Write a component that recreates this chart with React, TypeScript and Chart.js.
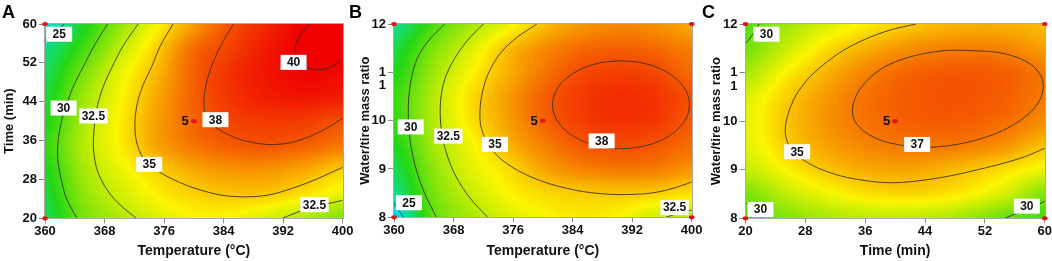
import React, { useEffect, useRef } from "react";
import { Chart, registerables } from "chart.js";

Chart.register(...registerables);

const FONT = "'Liberation Sans', Arial, Helvetica, sans-serif";

// ================= Panel A : Temperature (°C) x Time (min) =================
const A_xTicks = [360, 368, 376, 384, 392, 400];
const A_yTicks = [20, 28, 36, 44, 52, 60];
const A_gridX = [360, 365, 370, 375, 380, 385, 390, 395, 400];
const A_gridY = [60, 55, 50, 45, 40, 35, 30, 25, 20];
const A_values = [
  [24.3, 27.7, 31.0, 33.8, 36.1, 38.05, 39.1, 40.1, 41.0],
  [26.0, 28.9, 32.2, 34.8, 37.3, 38.4, 39.4, 40.1, 40.5],
  [26.8, 30.3, 33.3, 35.4, 37.6, 38.8, 39.5, 39.9, 39.8],
  [27.5, 31.2, 33.7, 35.8, 37.6, 38.7, 39.3, 39.5, 39.3],
  [28.0, 31.6, 34.0, 36.0, 37.5, 38.3, 38.6, 38.5, 38.0],
  [28.6, 32.0, 34.0, 35.9, 37.1, 37.7, 37.9, 37.6, 37.0],
  [28.0, 31.5, 33.4, 34.8, 35.8, 36.3, 36.3, 35.8, 34.9],
  [27.5, 30.9, 32.7, 34.0, 34.8, 35.1, 35.0, 34.3, 33.3],
  [26.8, 30.3, 31.9, 33.1, 33.8, 33.8, 33.0, 31.9, 30.7],
];
const A_c25 = [[360, 56.6], [361.2, 58.3], [362.6, 60]];
const A_c30 = [[368.4, 60], [366.6, 55.5], [365.1, 51.1], [363.9, 47.5], [363.1, 44.3], [362.3, 40.5], [361.8, 36.5], [361.7, 32.5], [362.1, 28.5], [362.9, 24], [364.3, 20]];
const A_c325a = [[372.5, 60], [370.5, 55.5], [369.0, 51.1], [367.8, 47], [367.0, 42.9], [366.6, 38.5], [366.5, 34.5], [366.9, 30.5], [367.7, 27.5], [368.9, 24.7], [370.5, 22.2], [372.3, 20]];
const A_c35 = [[377.2, 60], [375.5, 55.5], [374.3, 51.1], [373.2, 47.5], [372.5, 44.3], [372.1, 40.5], [372.2, 36.5], [372.9, 33.2], [374.2, 30.8], [376.3, 28.7], [379.9, 26.3], [384.4, 24.6], [389.7, 24.7], [395.1, 27.2], [400, 30.5]];
const A_c38 = [[385.3, 60], [383.6, 55.5], [382.3, 51], [381.5, 46.5], [381.4, 42.5], [382.2, 39.8], [383.9, 37.8], [386.5, 36.1], [389.8, 35.2], [392.8, 35.5], [395.5, 36.8], [397.9, 38.6], [400, 40.6]];
const A_c40 = [[395.5, 60], [394.2, 57.5], [393.6, 55], [393.9, 52.5], [395.0, 51], [397.2, 50.6], [399.0, 51.6], [400, 53.0]];
const A_c325b = [[391.9, 20], [394, 21.3], [395.9, 22.3], [398, 23], [400, 23.7]];
const A_labels = [["25", 361.9, 57.9], ["30", 362.5, 42.7], ["32.5", 366.5, 41.07], ["35", 374.0, 31.1], ["38", 382.9, 40.3], ["40", 393.4, 52.1], ["32.5", 396.2, 22.8]];
const A_design = [[360, 60], [360, 20]];
const A_center = [380, 40];
const A_centerLabel = "5";

// ================= Panel B : Temperature (°C) x Water/tire mass ratio =================
const B_xTicks = [360, 368, 376, 384, 392, 400];
const B_yTicks = [8, 9, 10, 11, 12];
const B_gridX = [360, 365, 370, 375, 380, 385, 390, 395, 400];
const B_gridY = [12, 11.5, 11, 10.5, 10, 9.5, 9, 8.5, 8];
const B_values = [
  [25.8, 29.0, 31.5, 33.4, 35.2, 36.2, 36.6, 36.4, 35.8],
  [27.2, 30.4, 32.8, 35.1, 36.5, 37.3, 37.6, 37.4, 36.8],
  [28.0, 31.2, 33.7, 35.5, 37.0, 38.1, 38.4, 38.2, 37.4],
  [28.8, 31.8, 34.3, 36.0, 37.6, 38.5, 38.9, 38.7, 38.0],
  [28.7, 31.8, 34.2, 35.9, 37.5, 38.4, 38.8, 38.6, 37.8],
  [28.0, 31.4, 33.5, 35.4, 36.8, 37.8, 38.1, 37.9, 37.3],
  [27.0, 30.8, 33.1, 34.4, 35.9, 36.7, 37.0, 36.9, 36.3],
  [25.8, 30.2, 32.4, 33.8, 34.6, 34.95, 35.05, 34.9, 34.4],
  [23.5, 29.5, 31.6, 33.0, 33.8, 34.2, 33.9, 32.8, 32.2],
];
const B_c25 = [[360, 8.3], [360.6, 8.15], [361.3, 8]];
const B_c30 = [[366.8, 12], [364.6, 11.65], [363.1, 11.28], [362.3, 10.85], [361.95, 10.4], [361.95, 9.95], [362.3, 9.45], [363.0, 8.98], [364.1, 8.5], [365.7, 8]];
const B_c325 = [[372, 12], [369.8, 11.65], [368.0, 11.25], [366.8, 10.85], [366.25, 10.4], [366.3, 9.9], [367.0, 9.35], [368.3, 8.85], [370.2, 8.4], [372.6, 8]];
const B_c35 = [[379.2, 12], [376.5, 11.72], [374.3, 11.4], [372.6, 10.95], [371.7, 10.45], [371.6, 9.95], [372.5, 9.55], [374.4, 9.2], [377.5, 8.9], [381.2, 8.68], [385.5, 8.53], [390, 8.47], [394.5, 8.5], [397.5, 8.6], [400, 8.73]];
const B_c38 = [
  [390.5, 11.24], [392.88, 11.209], [395.1, 11.118], [397.0, 10.973], [398.47, 10.785], [399.39, 10.566],
  [399.7, 10.33], [399.39, 10.094], [398.47, 9.875], [397.0, 9.687], [395.1, 9.542], [392.88, 9.451],
  [390.5, 9.42], [388.12, 9.451], [385.9, 9.542], [384.0, 9.687], [382.53, 9.875], [381.61, 10.094],
  [381.3, 10.33], [381.61, 10.566], [382.53, 10.785], [384.0, 10.973], [385.9, 11.118], [388.12, 11.209], [390.5, 11.24],
];
const B_c325b = [[396.5, 8], [398.2, 8.08], [400, 8.15]];
const B_labels = [["30", 362.25, 9.87], ["32.5", 367.3, 9.68], ["35", 373.56, 9.51], ["38", 387.9, 9.58], ["25", 362.0, 8.3], ["32.5", 397.7, 8.2]];
const B_design = [[360, 12], [400, 12], [360, 8], [400, 8]];
const B_center = [380, 10];
const B_centerLabel = "5";

// ================= Panel C : Time (min) x Water/tire mass ratio =================
const C_xTicks = [20, 28, 36, 44, 52, 60];
const C_yTicks = [8, 9, 10, 11, 12];
const C_gridX = [20, 25, 30, 35, 40, 45, 50, 55, 60];
const C_gridY = [12, 11.5, 11, 10.5, 10, 9.5, 9, 8.5, 8];
const C_values = [
  [29.5, 31.3, 32.8, 33.9, 34.7, 35.3, 35.6, 35.6, 35.3],
  [30.3, 32.4, 34.2, 35.4, 36.2, 36.7, 36.9, 36.7, 36.1],
  [31.6, 33.8, 35.3, 36.5, 37.3, 37.7, 37.8, 37.6, 37.0],
  [33.0, 34.7, 36.0, 37.0, 37.6, 37.9, 37.9, 37.6, 36.95],
  [33.3, 34.95, 36.15, 37.0, 37.5, 37.75, 37.65, 37.25, 36.5],
  [33.2, 34.7, 35.8, 36.55, 36.95, 37.05, 36.85, 36.25, 35.2],
  [32.4, 33.8, 34.95, 35.6, 35.9, 35.7, 35.1, 34.4, 33.5],
  [30.5, 32.2, 33.4, 34.2, 34.6, 34.5, 33.9, 32.7, 30.6],
  [29.4, 30.6, 31.6, 32.2, 32.4, 32.2, 31.3, 30.0, 29.2],
];
const C_c30a = [[20, 11.6], [20.8, 11.75], [21.8, 12]];
const C_c30b = [[20, 8.33], [21.1, 8.16], [22.3, 8]];
const C_c30c = [[54.7, 8], [56.5, 8.12], [58.3, 8.23], [60, 8.35]];
const C_c35 = [[42.8, 12], [39.2, 11.87], [35.9, 11.68], [33.0, 11.45], [30.4, 11.16], [28.3, 10.86], [26.7, 10.52], [25.7, 10.15], [25.3, 9.8], [25.8, 9.5], [27.1, 9.27], [29.6, 9.04], [33.6, 8.84], [39.5, 8.73], [46.2, 8.84], [52.9, 9.07], [57.0, 9.25], [60, 9.44]];
const C_c37 = [[50.4, 11.45], [53.5, 11.42], [56.2, 11.32], [58.3, 11.15], [59.5, 10.93], [59.8, 10.72], [59.4, 10.45], [58.2, 10.2], [56.3, 9.97], [53.7, 9.76], [50.6, 9.6], [47.4, 9.5], [44.0, 9.46], [41.0, 9.5], [38.2, 9.6], [36.0, 9.77], [34.6, 10.0], [34.3, 10.26], [34.9, 10.56], [36.4, 10.86], [38.6, 11.12], [41.5, 11.3], [44.5, 11.41], [47.5, 11.46], [50.4, 11.45]];
const C_labels = [["30", 22.8, 11.79], ["35", 26.9, 9.37], ["37", 42.94, 9.52], ["30", 22.0, 8.18], ["30", 57.6, 8.25]];
const C_design = [[20, 12], [60, 12], [20, 8], [60, 8]];
const C_center = [40, 10];
const C_centerLabel = "5";

// ---------------- rendering helpers ----------------
const COLOR_STOPS: [number, number[]][] = [
  [20.5, [30, 90, 250]],
  [24.2, [0, 225, 225]],
  [28.2, [35, 215, 20]],
  [33.9, [252, 245, 0]],
  [40.0, [240, 0, 0]],
];

function colorFor(v: number): number[] {
  const s = COLOR_STOPS;
  if (v <= s[0][0]) return s[0][1];
  for (let i = 1; i < s.length; i++) {
    if (v <= s[i][0]) {
      const t = (v - s[i - 1][0]) / (s[i][0] - s[i - 1][0]);
      const a = s[i - 1][1], b = s[i][1];
      return [a[0] + (b[0] - a[0]) * t, a[1] + (b[1] - a[1]) * t, a[2] + (b[2] - a[2]) * t];
    }
  }
  return s[s.length - 1][1];
}

const cr = (p0: number, p1: number, p2: number, p3: number, t: number) =>
  p1 + 0.5 * t * (p2 - p0 + t * (2 * p0 - 5 * p1 + 4 * p2 - p3 + t * (3 * (p1 - p2) + p3 - p0)));

function sampleGrid(vals: number[][], gx: number, gy: number) {
  const ny = vals.length, nx = vals[0].length;
  gx = Math.max(0, Math.min(nx - 1, gx));
  gy = Math.max(0, Math.min(ny - 1, gy));
  const ix = Math.min(Math.floor(gx), nx - 2), iy = Math.min(Math.floor(gy), ny - 2);
  const fx = gx - ix, fy = gy - iy;
  const at = (j: number, i: number) => vals[Math.max(0, Math.min(ny - 1, j))][Math.max(0, Math.min(nx - 1, i))];
  const r: number[] = [];
  for (let j = -1; j <= 2; j++) r.push(cr(at(iy + j, ix - 1), at(iy + j, ix), at(iy + j, ix + 1), at(iy + j, ix + 2), fx));
  return cr(r[0], r[1], r[2], r[3], fy);
}

type PanelCfg = {
  left: number; width: number; yAxisW: number; padRight: number; padTop: number; xAxisH: number; yTitlePad: number; letterX: number;
  letter: string; xTitle: string; yTitle: string;
  xMin: number; xMax: number; yMin: number; yMax: number;
  xTicks: number[]; yTicks: number[];
  gridX: number[]; gridY: number[]; values: number[][];
  contours: number[][][]; labels: (string | number)[][];
  design: number[][]; center: number[]; centerLabel: string; splitTick: number | null;
};

const PANELS: PanelCfg[] = [
  {
    left: 0, width: 360, yAxisW: 45, padRight: 17.3, padTop: 24, xAxisH: 42.7, yTitlePad: 2, letterX: 2,
    letter: "A", xTitle: "Temperature (°C)", yTitle: "Time (min)",
    xMin: 360, xMax: 400, yMin: 20, yMax: 60, xTicks: A_xTicks, yTicks: A_yTicks,
    gridX: A_gridX, gridY: A_gridY, values: A_values,
    contours: [A_c25, A_c30, A_c325a, A_c35, A_c38, A_c40, A_c325b], labels: A_labels,
    design: A_design, center: A_center, centerLabel: A_centerLabel, splitTick: null,
  },
  {
    left: 348, width: 357, yAxisW: 46, padRight: 13.3, padTop: 24, xAxisH: 43.7, yTitlePad: 9.2, letterX: 1,
    letter: "B", xTitle: "Temperature (°C)", yTitle: "Water/tire mass ratio",
    xMin: 360, xMax: 400, yMin: 8, yMax: 12, xTicks: B_xTicks, yTicks: B_yTicks,
    gridX: B_gridX, gridY: B_gridY, values: B_values,
    contours: [B_c25, B_c30, B_c325, B_c35, B_c38, B_c325b], labels: B_labels,
    design: B_design, center: B_center, centerLabel: B_centerLabel, splitTick: 11,
  },
  {
    left: 700, width: 352, yAxisW: 45.5, padRight: 6.7, padTop: 24, xAxisH: 42.7, yTitlePad: 9, letterX: 2,
    letter: "C", xTitle: "Time (min)", yTitle: "Water/tire mass ratio",
    xMin: 20, xMax: 60, yMin: 8, yMax: 12, xTicks: C_xTicks, yTicks: C_yTicks,
    gridX: C_gridX, gridY: C_gridY, values: C_values,
    contours: [C_c30a, C_c30b, C_c30c, C_c35, C_c37], labels: C_labels,
    design: C_design, center: C_center, centerLabel: C_centerLabel, splitTick: 11,
  },
];

const TICK_FONT = { family: FONT, size: 13, weight: "bold" as const };
const Y_TICK_LEN = 6;
const Y_TICK_PAD = 2;

function Panel({ cfg }: { cfg: PanelCfg }) {
  const ref = useRef<HTMLCanvasElement | null>(null);
  useEffect(() => {
    const canvas = ref.current;
    if (!canvas) return;

    const decor = {
      id: "contourDecor",
      beforeDatasetsDraw(chart: any) {
        const { ctx, chartArea, scales } = chart;
        const xs = scales.x, ys = scales.y;
        const x0 = Math.round(chartArea.left), y0 = Math.round(chartArea.top);
        const x1 = Math.round(chartArea.right), y1 = Math.round(chartArea.bottom);
        const w = x1 - x0, h = y1 - y0;
        if (w <= 0 || h <= 0) return;
        const img = ctx.createImageData(w, h);
        const dx = cfg.gridX[1] - cfg.gridX[0], dy = cfg.gridY[1] - cfg.gridY[0];
        for (let py = 0; py < h; py++) {
          const yv = ys.getValueForPixel(y0 + py + 0.5);
          const gy = (yv - cfg.gridY[0]) / dy;
          for (let px = 0; px < w; px++) {
            const xv = xs.getValueForPixel(x0 + px + 0.5);
            const gx = (xv - cfg.gridX[0]) / dx;
            const c = colorFor(sampleGrid(cfg.values, gx, gy));
            const k = (py * w + px) * 4;
            img.data[k] = c[0]; img.data[k + 1] = c[1]; img.data[k + 2] = c[2]; img.data[k + 3] = 255;
          }
        }
        const off = document.createElement("canvas");
        off.width = w; off.height = h;
        off.getContext("2d")!.putImageData(img, 0, 0);
        ctx.drawImage(off, x0, y0);
      },
      afterDatasetDraw(chart: any, args: any) {
        if (args.index !== 1) return;
        const { ctx, scales } = chart;
        ctx.save();
        ctx.font = `bold 12px ${FONT}`;
        ctx.textAlign = "center";
        ctx.textBaseline = "middle";
        for (const [text, lx, ly] of cfg.labels) {
          const px = scales.x.getPixelForValue(lx as number);
          const py = scales.y.getPixelForValue(ly as number);
          const tw = ctx.measureText(text as string).width;
          const bw = Math.max(26, tw + 5), bh = 15;
          ctx.fillStyle = "#ffffff";
          ctx.fillRect(px - bw / 2, py - bh / 2, bw, bh);
          ctx.fillStyle = "#111111";
          ctx.fillText(text as string, px, py + 0.5);
        }
        ctx.restore();
      },
      afterDatasetsDraw(chart: any) {
        const { ctx, chartArea, scales } = chart;
        ctx.save();
        ctx.strokeStyle = "#a9a9a9";
        ctx.lineWidth = 1;
        ctx.strokeRect(Math.round(chartArea.left) - 0.5, Math.round(chartArea.top) - 0.5,
          Math.round(chartArea.right) - Math.round(chartArea.left) + 1, Math.round(chartArea.bottom) - Math.round(chartArea.top) + 1);
        const cx = scales.x.getPixelForValue(cfg.center[0]);
        const cy = scales.y.getPixelForValue(cfg.center[1]);
        ctx.font = `bold 13px ${FONT}`;
        ctx.fillStyle = "#111111";
        ctx.textAlign = "right";
        ctx.textBaseline = "middle";
        ctx.fillText(cfg.centerLabel, cx - 5, cy + 0.5);
        ctx.fillStyle = "#e01616";
        for (const [x, y] of [...cfg.design, cfg.center]) {
          const px = scales.x.getPixelForValue(x);
          const py = scales.y.getPixelForValue(y);
          ctx.beginPath();
          ctx.ellipse(px, py, 2.8, 2.1, 0, 0, Math.PI * 2);
          ctx.fill();
        }
        ctx.restore();
      },
      afterDraw(chart: any) {
        const { ctx, chartArea, scales } = chart;
        ctx.save();
        ctx.fillStyle = "#000000";
        ctx.font = `bold 18px ${FONT}`;
        ctx.textAlign = "left";
        ctx.textBaseline = "alphabetic";
        ctx.fillText(cfg.letter, cfg.letterX, 18);
        if (cfg.splitTick !== null) {
          const py = scales.y.getPixelForValue(cfg.splitTick) + 13.5;
          ctx.font = `bold 13px ${FONT}`;
          ctx.fillStyle = "#111111";
          ctx.textAlign = "right";
          ctx.textBaseline = "middle";
          ctx.fillText("1", chartArea.left - Y_TICK_LEN - Y_TICK_PAD, py);
        }
        ctx.restore();
      },
    };

    const datasets: any[] = [
      {
        data: [...cfg.design, cfg.center].map(([x, y]) => ({ x, y })),
        showLine: false,
        pointRadius: 0,
        clip: false,
      },
      ...cfg.contours.map((c) => ({
        data: c.map(([x, y]) => ({ x, y })),
        showLine: true,
        borderColor: "rgba(55,45,35,0.85)",
        borderWidth: 1,
        pointRadius: 0,
        tension: 0.3,
        fill: false,
      })),
    ];

    const chart = new Chart(canvas, {
      type: "scatter",
      data: { datasets },
      options: {
        animation: false,
        responsive: false,
        devicePixelRatio: 1,
        events: [],
        layout: { padding: { top: cfg.padTop, right: cfg.padRight, left: 0, bottom: 0 } },
        plugins: { legend: { display: false }, tooltip: { enabled: false } },
        scales: {
          x: {
            type: "linear",
            min: cfg.xMin,
            max: cfg.xMax,
            afterBuildTicks: (s: any) => { s.ticks = cfg.xTicks.map((v) => ({ value: v })); },
            afterFit: (s: any) => { s.height = cfg.xAxisH; },
            grid: { display: true, drawOnChartArea: false, drawTicks: true, tickLength: 5, color: "#8a8a8a", lineWidth: 1 },
            border: { display: false },
            ticks: { autoSkip: false, maxRotation: 0, padding: 0, color: "#111111", font: TICK_FONT, callback: (v: any) => String(v) },
            title: { display: true, text: cfg.xTitle, color: "#111111", font: { family: FONT, size: 14, weight: "bold" }, padding: { top: 0, bottom: 1 } },
          },
          y: {
            type: "linear",
            min: cfg.yMin,
            max: cfg.yMax,
            afterBuildTicks: (s: any) => { s.ticks = cfg.yTicks.map((v) => ({ value: v })); },
            afterFit: (s: any) => { s.width = cfg.yAxisW; },
            grid: { display: true, drawOnChartArea: false, drawTicks: true, tickLength: Y_TICK_LEN, color: "#8a8a8a", lineWidth: 1 },
            border: { display: false },
            ticks: {
              autoSkip: false, padding: Y_TICK_PAD, color: "#111111", font: TICK_FONT,
              callback: (v: any) => (cfg.splitTick !== null && v === cfg.splitTick ? "1" : String(v)),
            },
            title: { display: true, text: cfg.yTitle, color: "#111111", font: { family: FONT, size: 13, weight: "bold" }, padding: { top: cfg.yTitlePad, bottom: 0 } },
          },
        },
      } as any,
      plugins: [decor],
    });
    return () => chart.destroy();
  }, [cfg]);

  return (
    <canvas
      ref={ref}
      width={cfg.width}
      height={261}
      style={{ position: "absolute", left: cfg.left, top: 0, width: cfg.width, height: 261 }}
    />
  );
}

export default function App() {
  return (
    <div style={{ position: "fixed", left: 0, top: 0, width: 1052, height: 261, background: "#ffffff", overflow: "hidden" }}>
      {PANELS.map((p, i) => (
        <Panel key={i} cfg={p} />
      ))}
    </div>
  );
}
